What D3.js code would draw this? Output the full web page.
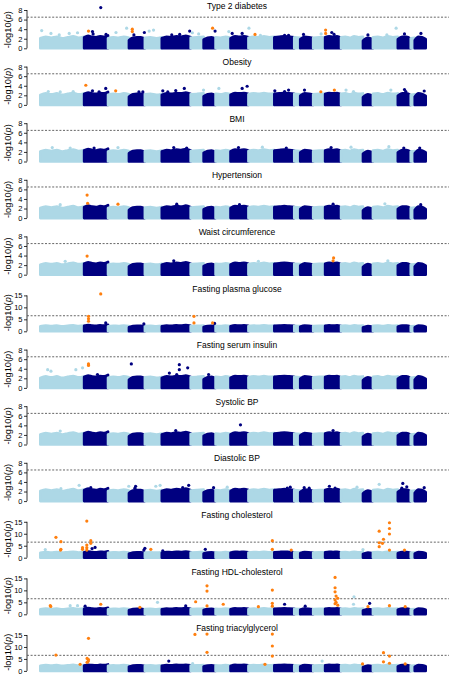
<!DOCTYPE html>
<html><head><meta charset="utf-8">
<script src="https://cdn.jsdelivr.net/npm/d3@7"></script>
<style>
body{margin:0;background:#fff}
svg{display:block}
text{font-family:"Liberation Sans",Arial,Helvetica,sans-serif;fill:#000}
</style>
</head><body>
<svg id="chart" width="449" height="676"></svg>
<script>
// ---------------- DATA ----------------
const chromosomes = d3.range(1, 23).map(String);
// relative number of markers per chromosome (sets block widths)
const chromSizes = [44, 24, 21, 16, 17, 29, 13, 12, 15, 18, 26, 20, 6, 13, 12, 16, 22, 10, 25, 13, 4, 11];
// upper envelope of the dense mass of non-significant markers (-log10 p), sampled along each chromosome
const bulkTops = [
  [2.1, 2.4, 2.2, 2.4, 2.1, 2.3, 2.5, 2.2, 2.4],
  [2.3, 2.6, 2.4, 2.3, 2.5, 2.4, 2.7],
  [2.1, 2.3, 2.2, 2.4, 2.2],
  [1.7, 2.2, 2.3, 2.3, 2.0],
  [2.2, 2.3, 2.1, 2.3],
  [2.1, 2.4, 2.3, 2.5, 2.4, 2.6, 2.3],
  [2.2, 2.3, 2.4],
  [1.8, 2.2, 2.3, 2.0],
  [2.3, 2.2, 2.4, 2.2],
  [2.1, 2.5, 2.4, 2.5, 2.3],
  [2.2, 2.4, 2.3, 2.5, 2.3, 2.4],
  [2.3, 2.4, 2.5, 2.4, 2.3],
  [2.3, 2.2],
  [1.9, 2.4, 2.3, 2.1],
  [2.2, 2.3, 2.3],
  [2.3, 2.5, 2.4, 2.5, 2.2],
  [2.3, 2.4, 2.2, 2.5, 2.3, 2.4],
  [1.6, 2.2, 1.9],
  [2.3, 2.4, 2.2, 2.5, 2.3, 2.4],
  [1.9, 2.4, 2.4, 2.0],
  [2.1, 2.2],
  [1.7, 2.4, 2.3, 1.9]
];
const traits = ["Type 2 diabetes", "Obesity", "BMI", "Hypertension", "Waist circumference",
  "Fasting plasma glucose", "Fasting serum insulin", "Systolic BP", "Diastolic BP",
  "Fasting cholesterol", "Fasting HDL-cholesterol", "Fasting triacylglycerol"];
const yMaxes = [8, 8, 8, 8, 8, 16, 8, 8, 8, 16, 16, 16];
const ticksLow = [0, 2, 4, 6, 8];
const ticksHigh = [0, 5, 10, 15];
const threshold = 6.5;

// markers above the dense mass: [chromosome, position within chromosome, -log10 p, highlighted]
const hitsT2D = [[1,1.4,3.7,0],[1,10.7,3.1,0],[1,19,2.8,0],[1,29,3.1,0],[1,37.4,3.25,0],
  [2,4.4,3.6,1],[2,8.4,3.5,0],[2,9,3.0,0],[2,16.7,8.5,0],[2,22,2.9,0],[3,8,3.3,0],[3,18.7,4.2,0],
  [4,3.4,4.0,1],[4,3.4,3.5,1],[4,5,2.8,0],[4,15.5,3.3,0],[5,4.3,3.6,0],[5,8.7,3.8,0],
  [6,10,2.8,0],[6,18,2.9,0],[6,28,3.6,0],[7,1.7,3.25,0],[7,8,3.0,0],[8,9,4.2,1],[8,11.5,3.6,0],
  [9,13.3,3.5,0],[10,1.7,3.1,0],[10,11.7,3.1,0],[11,0.5,4.2,0],[11,6.6,2.9,1],[11,12,2.7,0],
  [12,10.3,2.7,0],[12,14.3,2.7,0],[14,3.3,2.9,0],[15,8,3.0,0],[16,0.5,3.8,1],[16,0.5,3.1,1],
  [16,6.7,3.3,0],[16,9,2.9,0],[18,5,2.8,0],[19,23.3,4.2,0],[19,14,2.8,0],[20,6.7,3.0,0],[22,6.2,3.1,0]];
const hitsObesity = [[1,8,2.8,0],[1,20,2.7,0],[1,33,2.8,0],[2,1.7,4.1,1],[2,8.4,2.95,0],[2,15,2.75,0],
  [2,21.7,3.45,0],[3,7.7,2.95,1],[4,10,2.7,0],[4,14,2.7,0],[6,1,2.95,0],[6,6,2.7,0],[6,14,3.0,0],
  [6,22.6,3.45,0],[7,12.9,3.1,0],[9,3.3,3.45,0],[10,11.7,3.45,0],[10,16.7,3.9,0],[12,0.5,2.95,0],
  [12,10.3,2.8,0],[12,14.3,3.1,0],[14,4.3,3.1,0],[15,7.7,2.75,1],[16,9.3,3.1,1],[17,5,3.1,0],
  [17,12.5,2.8,0],[19,18,3.1,0],[20,6.7,3.2,0],[20,8,2.8,0],[22,9.5,2.9,0]];
const hitsBMI = [[1,12,2.9,0],[1,30,2.8,0],[2,10,2.8,0],[3,10,2.9,0],[6,12,2.9,0],[6,25,2.8,0],
  [10,8,2.9,0],[11,14,3.0,0],[12,12,2.8,0],[16,6,2.9,0],[17,10,3.0,0],[19,16,3.1,0],[20,6,2.8,0],[22,5,2.8,0]];
const hitsHypertension = [[2,3,4.8,1],[2,3.5,3.1,1],[3,10,2.9,1],[1,20,2.8,0],[6,15,2.9,0],[10,9,2.8,0],
  [16,8,2.9,0],[19,12,3.0,0],[22,6,2.8,0]];
const hitsWaist = [[2,3,3.9,1],[16,8,2.9,1],[16,8.5,3.5,1],[1,25,2.8,0],[6,12,2.9,0],[11,10,2.8,0],[19,15,2.9,0]];
const hitsGlucose = [[2,16.7,15.6,1],[2,4.4,6.25,1],[2,4.4,5.2,1],[2,4.4,4.2,1],[2,21.7,3.5,0],
  [4,15,3.1,0],[7,3.3,6.25,1],[7,3.3,3.5,1],[8,9,3.5,1],[8,11,3.3,0]];
const hitsInsulin = [[1,7.4,3.8,0],[1,10.7,3.5,0],[1,35.7,3.8,0],[1,42.4,4.2,0],[2,4.4,5.0,1],[2,4.4,4.7,1],
  [2,13.4,2.8,0],[4,2.4,5.0,0],[6,7.6,3.1,0],[6,17.6,4.85,0],[6,17.6,3.8,0],[6,26,4.2,0],[6,15,2.8,0],[8,5,2.8,0]];
const hitsSBP = [[10,10,4.1,0],[1,20,2.8,0],[6,14,2.9,0],[16,8,2.9,0]];
const hitsDBP = [[1,20.7,2.6,0],[1,39,3.3,0],[2,6.7,2.8,0],[3,20.8,3.1,0],[4,6.7,3.1,0],[4,6,2.7,0],
  [5,15.3,3.3,0],[5,11,3.1,0],[6,27,3.3,0],[6,21,2.8,0],[8,10,2.8,0],[9,11.7,2.9,0],[12,16,2.9,0],
  [12,13,2.7,0],[14,4,2.8,0],[14,9,2.7,0],[16,4.3,3.1,0],[16,10,2.7,0],[17,16,2.9,0],[19,6.3,3.5,0],
  [20,5,3.7,0],[20,4,2.7,0],[20,9,3.0,0],[22,9.5,2.8,0]];
const hitsCholesterol = [[1,5,3.4,0],[1,15.7,8.5,1],[1,20.7,6.7,1],[1,20.7,3.5,1],[1,20.3,3.2,1],[1,42.4,4.2,1],
  [1,42.4,3.5,1],[2,8,3.8,0],[2,11,4.3,0],[2,2.7,15.3,1],[2,2.7,5.3,1],[2,2.7,4.2,1],[2,2.7,3.2,1],
  [2,6.7,7.1,1],[2,6.7,6.0,1],[4,16,3.9,0],[4,15,3.2,0],[5,6,3.5,1],[6,1,2.9,0],[8,1.7,3.5,0],
  [11,24,7.1,1],[11,24,3.5,1],[12,17,3.2,1],[17,22,3.4,0],[19,6.3,11.1,1],[19,6.3,6.25,1],[19,6.3,4.6,1],
  [19,10.6,7.7,1],[19,9.6,6.0,1],[19,16.6,14.6,1],[19,16.6,12.2,1],[19,16.6,9.9,1],[19,16.6,3.2,1],[20,6.7,3.2,1]];
const hitsHDL = [[1,10,3.6,1],[1,10.5,3.3,1],[1,30,3.6,0],[1,37.4,3.6,0],[2,1,3.4,0],[2,16.7,4.2,1],
  [4,11,2.9,1],[5,12.7,5.0,0],[6,24,3.5,0],[7,5,5.25,1],[8,3.4,11.9,1],[8,3.4,9.7,1],[8,3.4,3.5,1],
  [9,7.7,4.2,1],[11,10,3.2,1],[11,24,10.1,1],[11,24,4.6,1],[11,24,3.4,1],[12,10.3,4.2,0],[14,5,3.4,0],
  [16,10,15.4,1],[16,10,11.1,1],[16,10,9.4,1],[16,11,7.6,1],[16,12.7,6.7,1],[16,10,6.0,1],[16,11,5.0,1],
  [16,10,4.4,1],[16,12.7,3.8,1],[17,13,7.3,0],[17,12.5,4.2,0],[18,6.7,4.6,0],[18,5,3.2,1],[19,16.6,3.6,1],[20,7.4,3.2,1]];
const hitsTG = [[1,15.7,6.6,1],[1,40,2.75,1],[2,4.4,13.6,1],[2,3,5.2,1],[2,4.4,4.7,1],[2,4,4.0,1],[2,3,3.6,1],
  [6,7,4.1,0],[7,2,3.0,0],[7,4.3,15.25,1],[8,3.4,15.4,1],[8,3.4,7.75,1],[11,24,15.4,1],[11,24,10.4,1],
  [11,24,6.2,1],[11,16.6,2.75,1],[15,9,4.1,0],[17,21.6,2.9,1],[19,10.6,7.6,1],[19,10.6,3.8,1],
  [19,16.6,6.2,1],[19,16.6,3.2,1],[20,7.4,2.9,1]];
const panelHits = [hitsT2D, hitsObesity, hitsBMI, hitsHypertension, hitsWaist, hitsGlucose,
  hitsInsulin, hitsSBP, hitsDBP, hitsCholesterol, hitsHDL, hitsTG];

// ---------------- LAYOUT ----------------
const lightCol = "#add8e6", darkCol = "#000080", hiCol = "#ff7f0e";
const firstZero = 48.3, panelStep = 56.6, plotH = 38.3;
const axisX = 27, plotRight = 449;
const svg = d3.select("#chart");

const cumStart = [];
chromSizes.reduce((acc, s, i) => { cumStart[i] = acc; return acc + s; }, 0);
const total = d3.sum(chromSizes);
const x = d3.scaleLinear().domain([0, total]).range([40.3, 425.7]);
const colorOf = i => (i % 2 === 0 ? lightCol : darkCol);

traits.forEach((name, p) => {
  const zero = firstZero + p * panelStep;
  const y = d3.scaleLinear().domain([0, yMaxes[p]]).range([zero, zero - plotH]);
  const ticks = yMaxes[p] > 8 ? ticksHigh : ticksLow;
  const g = svg.append("g");

  // title
  g.append("text").attr("x", 237).attr("y", zero - 39.8)
    .attr("text-anchor", "middle").attr("font-size", 8.5).text(name);

  // y axis
  const ax = g.append("g").attr("transform", `translate(${axisX},0)`)
    .call(d3.axisLeft(y).tickValues(ticks).tickSize(3).tickPadding(1.5).tickSizeOuter(0));
  ax.select(".domain").remove();
  ax.selectAll("text").attr("font-size", 7.5).attr("font-family", '"Liberation Sans",Arial,sans-serif');
  ax.selectAll("line").attr("stroke", "#000").attr("stroke-width", 0.8);
  ax.append("line").attr("x1", 0).attr("x2", 0)
    .attr("y1", y(ticks[0])).attr("y2", y(ticks[ticks.length - 1]))
    .attr("stroke", "#000").attr("stroke-width", 0.8);

  // y label
  const lab = g.append("text")
    .attr("transform", `translate(11,${zero - plotH / 2 + 0.5}) rotate(-90)`)
    .attr("text-anchor", "middle").attr("font-size", 9.3);
  lab.append("tspan").text("-log10(");
  lab.append("tspan").attr("font-style", "italic").text("p");
  lab.append("tspan").text(")");

  // threshold line
  g.append("line").attr("x1", axisX).attr("x2", plotRight)
    .attr("y1", y(threshold)).attr("y2", y(threshold))
    .attr("stroke", "#555").attr("stroke-width", 0.9).attr("stroke-dasharray", "2,1.6");

  // dense mass of markers per chromosome
  const area = d3.area().x(d => d[0]).y0(y(0)).y1(d => d[1]).curve(d3.curveMonotoneX);
  chromSizes.forEach((size, c) => {
    const tops = bulkTops[c];
    const pts = tops.map((v, k) => [x(cumStart[c] + size * k / (tops.length - 1)), y(v)]);
    g.append("path").attr("d", area(pts))
      .attr("fill", colorOf(c)).attr("stroke", colorOf(c))
      .attr("stroke-width", 2.6).attr("stroke-linejoin", "round");
  });

  // individual markers
  const hits = panelHits[p].slice().sort((a, b) => a[3] - b[3]);
  g.selectAll("circle.hit").data(hits).join("circle")
    .attr("class", "hit")
    .attr("cx", d => x(cumStart[d[0] - 1] + d[1]))
    .attr("cy", d => y(d[2]))
    .attr("r", 1.6)
    .attr("fill", d => d[3] ? hiCol : colorOf(d[0] - 1));
});
</script>
</body></html>
